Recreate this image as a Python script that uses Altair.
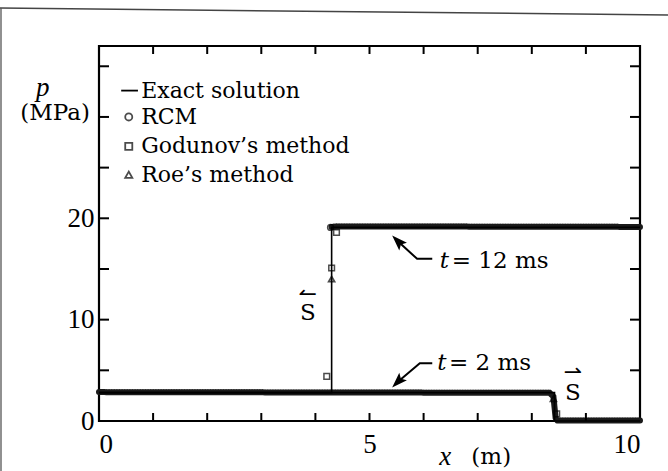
import altair as alt
import pandas as pd

# ---- exact solution (thin line) ----
exact_2ms_x = [0.0, 8.42, 8.42, 10.0]
exact_2ms_p = [2.8, 2.8, 0.0, 0.0]
exact_12ms_x = [0.0, 4.30, 4.30, 10.0]
exact_12ms_p = [2.8, 2.8, 19.1, 19.1]

# ---- computed results: the dense cell values merge into a thick band ----
band_2ms_x = [0.0, 8.33, 8.40, 8.44, 8.47, 10.0]
band_2ms_p = [2.85, 2.78, 2.4, 0.3, 0.05, 0.05]
band_12ms_x = [4.30, 4.40, 10.0]
band_12ms_p = [19.15, 19.2, 19.15]

# ---- individual cells resolved inside the shocks ----
rcm_x = [4.28]
rcm_p = [19.1]
godunov_x = [4.21, 4.30, 4.39, 8.46]
godunov_p = [4.4, 15.1, 18.6, 0.7]
roe_x = [4.30, 8.40]
roe_p = [14.0, 2.2]

# ---- axes ----
x_labels = [0, 5, 10]
y_labels = [0, 10, 20]
x_minor = [1, 2, 3, 4, 5, 6, 7, 8, 9]
y_minor = [5, 10, 15, 20, 25, 30, 35]

X_MAX, P_MAX = 10.0, 37.0
W, H = 541, 375

xs = alt.Scale(domain=[0, X_MAX], nice=False, zero=False)
ys = alt.Scale(domain=[0, P_MAX], nice=False, zero=False)

SERIF = "Liberation Serif"
TEXT_FONT = "DejaVu Serif"

ARROW_HEAD = "M0,-1L0.7,1L0,0.6L-0.7,1Z"


def frame(xv, pv, **extra):
    d = pd.DataFrame({"x": xv, "p": pv})
    for k, v in extra.items():
        d[k] = v
    return d


def pos():
    return dict(x=alt.X("x:Q", scale=xs), y=alt.Y("p:Q", scale=ys))


exact = pd.concat([
    frame(exact_2ms_x, exact_2ms_p, curve="2 ms", i=range(len(exact_2ms_x))),
    frame(exact_12ms_x, exact_12ms_p, curve="12 ms", i=range(len(exact_12ms_x))),
])
band = pd.concat([
    frame(band_2ms_x, band_2ms_p, curve="2 ms", i=range(len(band_2ms_x))),
    frame(band_12ms_x, band_12ms_p, curve="12 ms", i=range(len(band_12ms_x))),
])

X = alt.X("x:Q", scale=xs, axis=alt.Axis(
    values=x_labels, tickSize=0, domain=False, grid=False, title=None,
    labelFont=SERIF, labelFontSize=27, labelColor="black", labelPadding=10,
    format="d"))
Y = alt.Y("p:Q", scale=ys, axis=alt.Axis(
    values=y_labels, tickSize=0, domain=False, grid=False, title=None,
    labelFont=SERIF, labelFontSize=27, labelColor="black", labelPadding=5,
    format="d"))

band_layer = alt.Chart(band).mark_line(
    color="#1a1a1a", strokeWidth=6, strokeDash=[2, 0.6], strokeCap="round"
).encode(x=X, y=Y, detail="curve:N", order="i:Q")

exact_layer = alt.Chart(exact).mark_line(color="black", strokeWidth=1.6).encode(
    x=X, y=Y, detail="curve:N", order="i:Q")

rcm = alt.Chart(frame(rcm_x, rcm_p)).mark_point(
    shape="circle", size=34, color="black", strokeWidth=1.5, filled=False
).encode(**pos())
god = alt.Chart(frame(godunov_x, godunov_p)).mark_point(
    shape="square", size=32, color="black", strokeWidth=1.5, filled=False
).encode(**pos())
roe = alt.Chart(frame(roe_x, roe_p)).mark_point(
    shape="triangle-up", size=36, color="black", strokeWidth=1.7, filled=False
).encode(**pos())

# inward tick marks on all four sides
tick_len_x = 8 / H * P_MAX
tick_len_y = 10 / W * X_MAX
ticks = pd.concat([
    pd.DataFrame({"x": x_minor, "x2": x_minor, "p": 0.0, "p2": tick_len_x}),
    pd.DataFrame({"x": x_minor, "x2": x_minor, "p": P_MAX, "p2": P_MAX - tick_len_x}),
    pd.DataFrame({"x": 0.0, "x2": tick_len_y, "p": y_minor, "p2": y_minor}),
    pd.DataFrame({"x": X_MAX, "x2": X_MAX - tick_len_y, "p": y_minor, "p2": y_minor}),
])
tick_layer = alt.Chart(ticks).mark_rule(color="black", strokeWidth=2).encode(
    x=alt.X("x:Q", scale=xs), x2="x2:Q",
    y=alt.Y("p:Q", scale=ys), y2="p2:Q")

# curve labels with leader arrows
leaders = pd.DataFrame({
    "x": [6.16, 5.88, 5.52, 6.16, 5.93, 5.52],
    "p": [16.0, 16.0, 17.75, 5.7, 5.7, 3.85],
    "curve": ["12", "12", "12", "2", "2", "2"],
    "i": [0, 1, 2, 0, 1, 2],
})
leader_layer = alt.Chart(leaders).mark_line(color="black", strokeWidth=2).encode(
    x=alt.X("x:Q", scale=xs), y=alt.Y("p:Q", scale=ys),
    detail="curve:N", order="i:Q")
heads = pd.DataFrame({"x": [5.52, 5.52], "p": [17.75, 3.85], "ang": [315, 225]})
head_layer = alt.Chart(heads).mark_point(
    shape=ARROW_HEAD, size=240, filled=True, color="black", opacity=1
).encode(x=alt.X("x:Q", scale=xs), y=alt.Y("p:Q", scale=ys),
         angle=alt.Angle("ang:Q", scale=None))

t_italic = pd.DataFrame({"x": [6.30, 6.25], "p": [15.8, 5.7], "s": ["t", "t"]})
t_rest = pd.DataFrame({"x": [6.52, 6.47], "p": [15.8, 5.7], "s": ["= 12 ms", "= 2 ms"]})
t_it_layer = alt.Chart(t_italic).mark_text(
    font=TEXT_FONT, fontSize=23, fontStyle="italic", align="left", baseline="middle",
    color="black").encode(text="s:N", **pos())
t_rest_layer = alt.Chart(t_rest).mark_text(
    font=TEXT_FONT, fontSize=23, align="left", baseline="middle",
    color="black").encode(text="s:N", **pos())

# shock direction symbols
shock_s = pd.DataFrame({"x": [8.76, 3.86], "p": [2.8, 10.7], "s": ["S", "S"]})
shock_arrow = pd.DataFrame({"x": [8.76, 3.86], "p": [4.8, 12.5], "s": ["\u21c0", "\u21bc"]})
s_layer = alt.Chart(shock_s).mark_text(
    font=TEXT_FONT, fontSize=23, align="center", baseline="middle", color="black"
).encode(text="s:N", **pos())
s_arrow_layer = alt.Chart(shock_arrow).mark_text(
    font="DejaVu Sans", fontSize=22, align="center", baseline="middle", color="black"
).encode(text="s:N", **pos())

# axis titles
ax_titles = pd.DataFrame({
    "x": [6.40, 7.25, -1.04, -0.81],
    "p": [-3.55, -3.55, 32.9, 30.4],
    "s": ["x", "(m)", "p", "(MPa)"],
    "it": [True, False, True, False],
})
title_it = alt.Chart(ax_titles[ax_titles.it]).mark_text(
    font=SERIF, fontSize=27, fontStyle="italic", align="center", baseline="middle",
    color="black").encode(text="s:N", **pos())
title_rm = alt.Chart(ax_titles[~ax_titles.it]).mark_text(
    font=TEXT_FONT, fontSize=23, align="center", baseline="middle",
    color="black").encode(text="s:N", **pos())

# legend
legend_labels = ["Exact solution", "RCM", "Godunov\u2019s method", "Roe\u2019s method"]
legend_p = [32.6, 30.0, 27.1, 24.3]
leg_text = pd.DataFrame({"x": 0.78, "p": legend_p, "s": legend_labels})
leg_text_layer = alt.Chart(leg_text).mark_text(
    font=TEXT_FONT, fontSize=22, align="left", baseline="middle", color="black"
).encode(text="s:N", **pos())
leg_line = alt.Chart(pd.DataFrame({"x": [0.41], "x2": [0.72], "p": [legend_p[0]]})).mark_rule(
    color="black", strokeWidth=1.8).encode(
    x=alt.X("x:Q", scale=xs), x2="x2:Q", y=alt.Y("p:Q", scale=ys))
leg_sym = pd.DataFrame({"x": 0.55, "p": legend_p[1:], "shape": ["circle", "square", "triangle-up"]})
leg_sym_layer = alt.Chart(leg_sym).mark_point(
    size=50, color="black", strokeWidth=1.8, filled=False
).encode(shape=alt.Shape("shape:N", scale=None, legend=None), **pos())

# outer page frame
page_frame = alt.Chart(pd.DataFrame({"k": [0]})).mark_rule(
    color="#444", strokeWidth=1.5).encode(
    x=alt.value(-99), x2=alt.value(569), y=alt.value(-38), y2=alt.value(-31))
page_left = alt.Chart(pd.DataFrame({"k": [0]})).mark_rule(
    color="#555", strokeWidth=1.3).encode(
    x=alt.value(-98), x2=alt.value(-98), y=alt.value(-38), y2=alt.value(430))

chart = alt.layer(
    band_layer, exact_layer, tick_layer, rcm, god, roe,
    leader_layer, head_layer, t_it_layer, t_rest_layer, s_layer, s_arrow_layer,
    title_it, title_rm, leg_line, leg_sym_layer, leg_text_layer,
    page_frame, page_left,
).properties(
    width=W, height=H,
    autosize=alt.AutoSizeParams(type="none"),
    padding={"left": 99, "top": 46, "right": 28, "bottom": 50},
    background="white",
).configure_view(stroke="black", strokeWidth=2.2)

chart.save("out.html", embed_options={"renderer": "svg", "actions": False})
